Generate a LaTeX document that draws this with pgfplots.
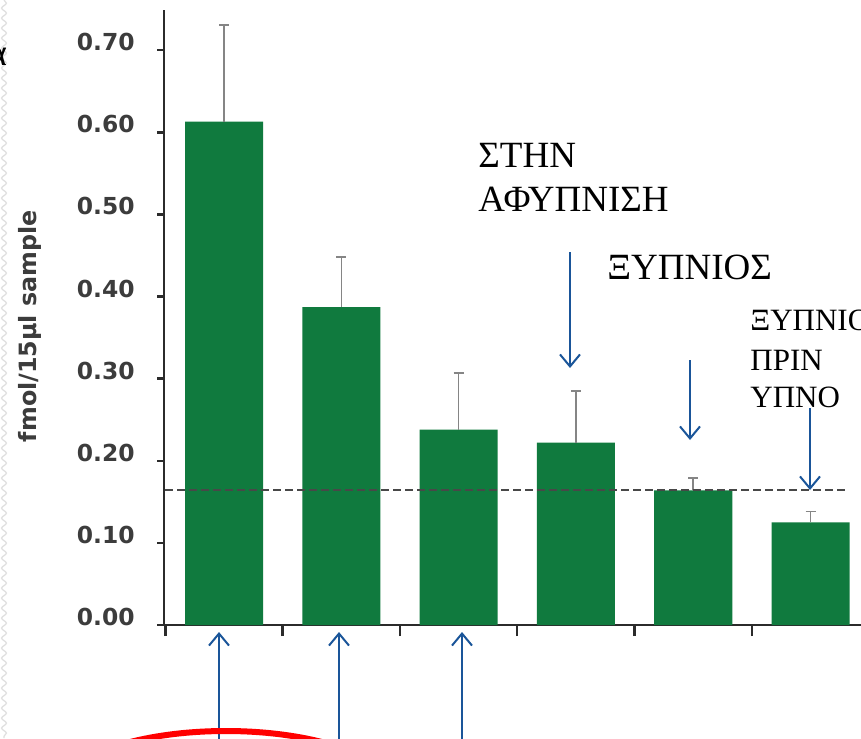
\documentclass[border=0pt]{standalone}
\usepackage{pgfplots}
\pgfplotsset{compat=1.18}
\usepackage{fontspec}
\setmainfont{Liberation Serif}
\newfontfamily\axisfont{DejaVu Sans}
\usetikzlibrary{arrows.meta,decorations.pathmorphing}

\definecolor{bargreen}{HTML}{107A3E}
\definecolor{axisgray}{HTML}{2B2B2B}
\definecolor{ticktext}{HTML}{3C3C3C}
\definecolor{errgray}{HTML}{858585}
\definecolor{refdash}{HTML}{484848}
\definecolor{pointblue}{HTML}{1A5599}

\begin{document}
\begin{tikzpicture}
\begin{scope}
\clip (0,0) rectangle (430.5pt,-369pt);
\fill[white] (0,0) rectangle (430.5pt,-369pt);

\begin{axis}[
  at={(82pt,-312.5pt)}, anchor=south west,
  scale only axis, width=348.5pt, height=307.5pt,
  xmin=-0.5115, xmax=5.43, ymin=0, ymax=0.749,
  axis x line*=bottom, axis y line*=left,
  axis line style={axisgray, line width=1.2pt, -},
  xtick=\empty,
  extra x ticks={-0.5,0.5,1.5,2.5,3.5,4.5},
  extra x tick labels={},
  extra x tick style={major tick length=5.5pt},
  ytick={0,0.1,0.2,0.3,0.4,0.5,0.6,0.7},
  tick align=outside,
  major tick length=3.5pt,
  tick style={axisgray, line width=1.2pt},
  yticklabel style={font=\fontsize{11.7}{14}\selectfont\axisfont\bfseries,
    text=ticktext, anchor=east, inner sep=0pt, xshift=-11pt, yshift=4pt},
  /pgf/number format/.cd, fixed, fixed zerofill, precision=2, assume math mode=true,
  /pgfplots/.cd,
  ylabel={fmol/15μl sample},
  ylabel style={font=\fontsize{11.9}{14}\selectfont\axisfont\bfseries,
    text=ticktext, at={(axis description cs:-0.192,0.486)}, anchor=center},
  clip=false,
]
% mean values with upper error bars
\addplot[ybar, bar width=0.665, fill=bargreen, draw=none,
  error bars/.cd, y dir=plus, y explicit,
  error bar style={errgray, line width=0.8pt},
  error mark options={errgray, line width=0.8pt, mark size=2.5pt, rotate=90}]
  coordinates {
    (0,0.613) +- (0,0.118)
    (1,0.387) +- (0,0.061)
    (2,0.238) +- (0,0.069)
    (3,0.222) +- (0,0.063)
    (4,0.164) +- (0,0.015)
    (5,0.125) +- (0,0.013)
  };
% reference level
\addplot[refdash, line width=1pt, dash pattern=on 4pt off 2pt]
  coordinates {(-0.5,0.164) (5.29,0.164)};
\end{axis}

\begin{scope}[x=0.5pt, y=-0.5pt]
  % slide border
  \draw[gray!25, line width=0.6pt, decorate,
        decoration={snake, amplitude=1.2, segment length=5}] (4,0) -- (4,738);
  \node[anchor=base east, inner sep=0pt, font=\fontsize{19}{20}\selectfont] at (8,66) {α};

  % annotations
  \node[anchor=base west, inner sep=0pt, font=\fontsize{18.5}{20}\selectfont] at (478,167) {ΣΤΗΝ};
  \node[anchor=base west, inner sep=0pt, font=\fontsize{18.5}{20}\selectfont] at (478,211) {ΑΦΥΠΝΙΣΗ};
  \node[anchor=base west, inner sep=0pt, font=\fontsize{18.5}{20}\selectfont] at (607,279) {ΞΥΠΝΙΟΣ};
  \node[anchor=base west, inner sep=0pt, font=\fontsize{15.5}{18}\selectfont] at (750,330) {ΞΥΠΝΙΟΣ};
  \node[anchor=base west, inner sep=0pt, font=\fontsize{15.5}{18}\selectfont] at (750,370) {ΠΡΙΝ};
  \node[anchor=base west, inner sep=0pt, font=\fontsize{15.5}{18}\selectfont] at (750,407) {ΥΠΝΟ};

  \begin{scope}[pointblue, line width=1pt, -{Straight Barb[length=6pt,width=10pt]}]
    \draw (570,252) -- (570,368);
    \draw (690,360) -- (690,440);
    \draw (810,408) -- (810,490);
    \draw (219,760) -- (219,632);
    \draw (339,760) -- (339,632);
    \draw (462,760) -- (462,632);
  \end{scope}

  \draw[red, line width=3pt] (226,796) ellipse [x radius=172, y radius=65];
\end{scope}
\end{scope}
\pgfresetboundingbox
\useasboundingbox (0,0) rectangle (430.5pt,-369pt);
\end{tikzpicture}
\end{document}
